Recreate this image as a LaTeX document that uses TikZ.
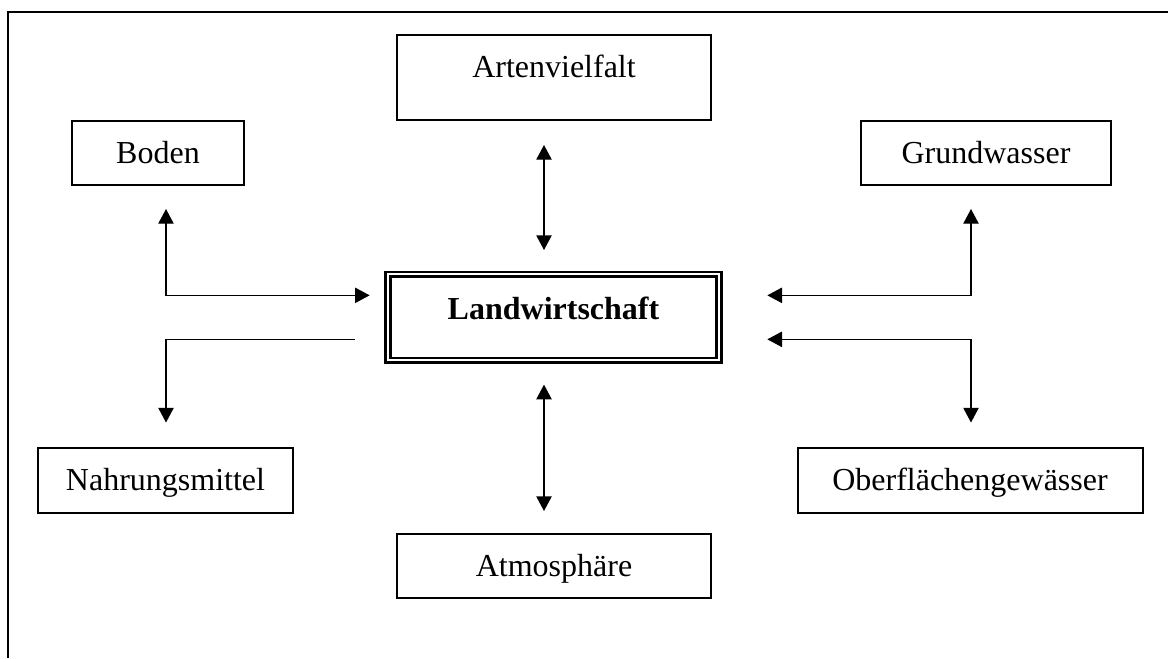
\documentclass[tikz,border=0pt]{standalone}
\usepackage{fontspec}
\setmainfont{Liberation Serif}
\usetikzlibrary{arrows.meta,calc}
\begin{document}
\begin{tikzpicture}[x=0.75pt,y=-0.75pt,
  box/.style={draw,line width=1.5pt,inner sep=0pt,
    font=\fontsize{24}{28}\selectfont,text height=15.9pt,text depth=0pt},
  conn/.style={line width=1pt,{Triangle[length=11pt,width=11.5pt]}-{Triangle[length=11pt,width=11.5pt]}},
  oneway/.style={line width=1pt,-{Triangle[length=11pt,width=11.5pt]}},
  frame/.style={line width=1.5pt}]
\useasboundingbox (0,0) rectangle (1168,658);
\draw[frame] (7.5,658) -- (7.5,12) -- (1168,12);

\node[box,anchor=north,minimum width=235.5pt,text height=31.5pt,text depth=32.25pt] (art) at (554,34) {Artenvielfalt};
\node[box,minimum width=129pt,minimum height=48pt] (boden) at (158,153) {Boden};
\node[box,minimum width=187.5pt,minimum height=48pt] (grund) at (986,153) {Grundwasser};
\node[box,anchor=north,minimum width=248.25pt,line width=2pt,double,double distance=1.5pt,
  text height=33.75pt,text depth=30.75pt,font=\fontsize{24}{28}\selectfont\bfseries] (lw) at (553.5,273) {Landwirtschaft};
\node[box,minimum width=191.25pt,minimum height=48.75pt] (nahr) at (165.5,480) {Nahrungsmittel};
\node[box,minimum width=258.75pt,minimum height=48.75pt] (ober) at (970,480) {Oberflächengewässer};
\node[box,minimum width=235.5pt,minimum height=48pt] (atm) at (554,566) {Atmosphäre};

\draw[conn] ($(art.south)+(-10,24)$) -- ($(lw.north)+(-9.5,-23)$);
\draw[conn] ($(lw.south)+(-9.5,23)$) -- ($(atm.north)+(-10,-22)$);
\draw[conn] ($(boden.south)+(8,23)$) |- ($(lw.west)+(-17,-22)$);
\draw[oneway] ($(lw.west)+(-32,22)$) -| ($(nahr.north)+(0.5,-24)$);
\draw[conn] ($(grund.south)+(-15,23)$) |- ($(lw.east)+(47,-22)$);
\draw[conn] ($(lw.east)+(47,22)$) -| ($(ober.north)+(1,-24)$);
\end{tikzpicture}
\end{document}
